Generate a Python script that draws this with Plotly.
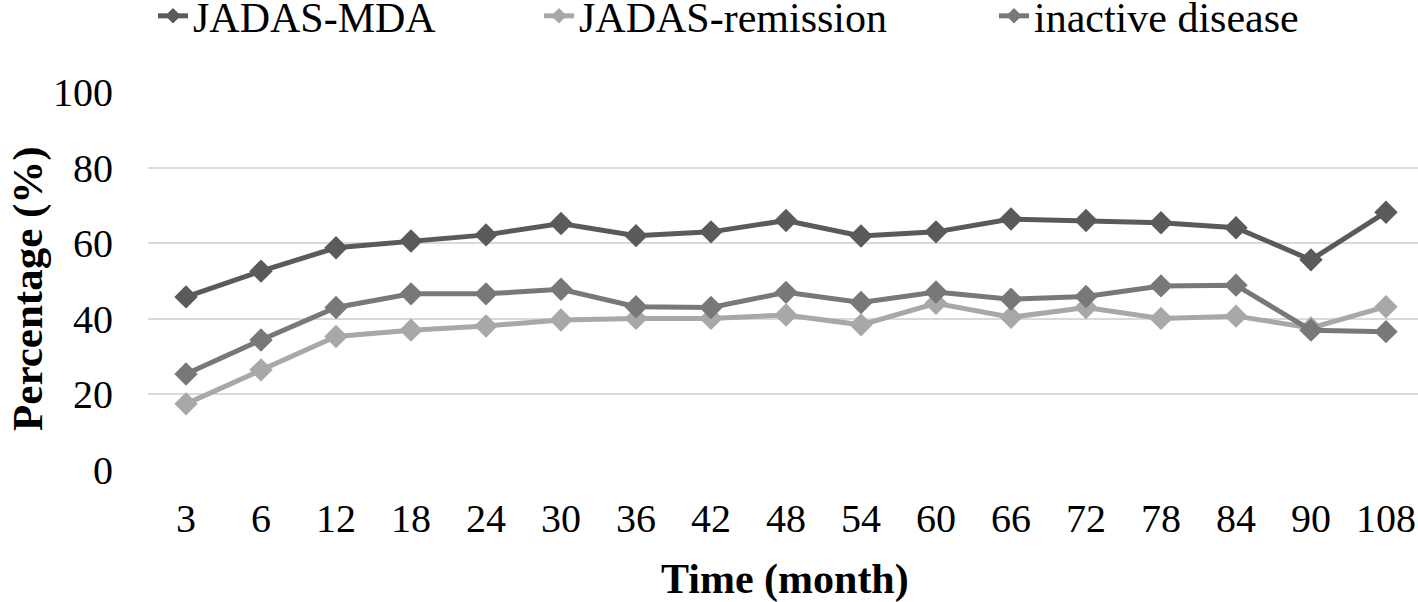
import plotly.graph_objects as go

months = ["3", "6", "12", "18", "24", "30", "36", "42", "48", "54", "60", "66", "72", "78", "84", "90", "108"]
jadas_mda = [45.8, 52.6, 58.8, 60.6, 62.2, 65.2, 62.0, 63.0, 66.0, 61.9, 63.0, 66.4, 66.0, 65.4, 64.1, 55.6, 68.2]
jadas_remission = [17.5, 26.5, 35.3, 37.0, 38.1, 39.7, 40.1, 40.1, 41.0, 38.4, 44.1, 40.4, 43.0, 40.1, 40.7, 37.6, 43.2]
inactive_disease = [25.4, 34.4, 43.0, 46.6, 46.6, 47.8, 43.2, 43.0, 47.0, 44.3, 47.1, 45.2, 45.9, 48.7, 48.9, 37.0, 36.6]
y_ticks = [0, 20, 40, 60, 80, 100]

series = [
    ("JADAS-MDA", jadas_mda, "#5a5a5a", "legend"),
    ("JADAS-remission", jadas_remission, "#a8a8a8", "legend2"),
    ("inactive disease", inactive_disease, "#787878", "legend3"),
]

FONT = "Liberation Serif"

fig = go.Figure()
for name, vals, col, lg in series:
    fig.add_trace(go.Scatter(
        x=months, y=vals, name=name, mode="lines+markers",
        line=dict(color=col, width=5),
        marker=dict(symbol="diamond", size=18, color=col),
        legend=lg,
    ))

PLOT_L = 148
PLOT_W = 1270


def legend_at(px):
    return dict(
        orientation="h", x=(px - PLOT_L) / PLOT_W, y=1.201, xanchor="left", yanchor="middle",
        font=dict(family=FONT, size=42, color="black"),
        bgcolor="rgba(0,0,0,0)", itemsizing="constant",
    )


fig.update_layout(
    width=1418, height=602,
    margin=dict(l=148, r=0, t=92, b=132, autoexpand=False),
    paper_bgcolor="white", plot_bgcolor="white",
    font=dict(family=FONT, size=40, color="black"),
    showlegend=True,
    legend=legend_at(153),
    legend2=legend_at(539),
    legend3=legend_at(994),
    xaxis=dict(
        type="category", range=[-0.507, 16.427],
        showgrid=False, zeroline=False, showline=False,
        ticks="", tickfont=dict(family=FONT, size=40, color="black"),
        ticklabelstandoff=21,
    ),
    yaxis=dict(
        range=[0, 100], tickvals=y_ticks, showgrid=True,
        gridcolor="#d9d9d9", gridwidth=2, zeroline=False, showline=False,
        ticks="", tickfont=dict(family=FONT, size=40, color="black"),
        ticklabelstandoff=34,
    ),
    annotations=[
        dict(text="<b>Percentage (%)</b>", textangle=-90, xref="paper", yref="paper",
             x=(28 - PLOT_L) / PLOT_W, y=0.479, xanchor="center", yanchor="middle", showarrow=False,
             font=dict(family=FONT, size=43, color="black")),
        dict(text="<b>Time (month)</b>", xref="paper", yref="paper",
             x=(785 - PLOT_L) / PLOT_W, y=-0.291, xanchor="center", yanchor="middle", showarrow=False,
             font=dict(family=FONT, size=42, color="black")),
    ],
)

fig.write_html("out.html", config={"displayModeBar": False},
               post_script="document.body.style.margin='0';")
